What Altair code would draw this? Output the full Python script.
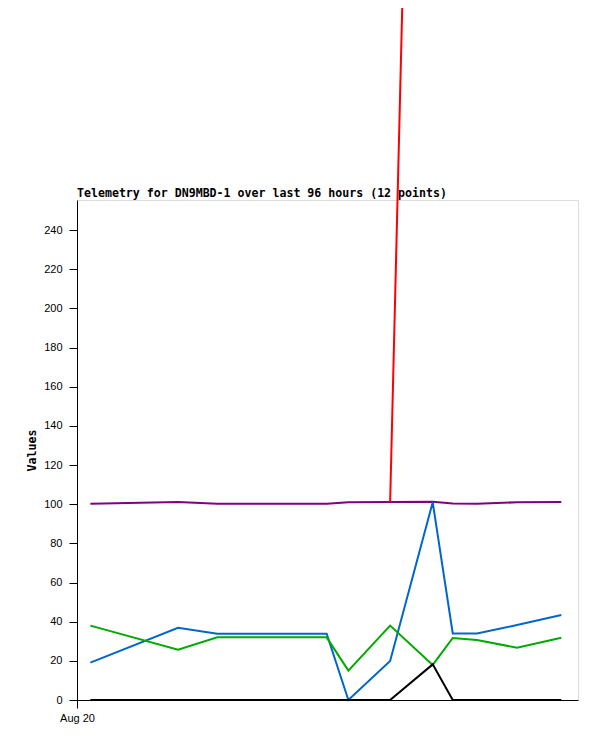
import altair as alt
import pandas as pd

title_text = "Telemetry for DN9MBD-1 over last 96 hours (12 points)"
times = [
    "2024-08-20T00:16:00Z", "2024-08-20T02:01:00Z", "2024-08-20T02:48:00Z",
    "2024-08-20T03:51:00Z", "2024-08-20T04:59:00Z", "2024-08-20T05:25:00Z",
    "2024-08-20T06:15:00Z", "2024-08-20T07:06:00Z", "2024-08-20T07:30:00Z",
    "2024-08-20T07:59:00Z", "2024-08-20T08:47:00Z", "2024-08-20T09:40:00Z",
]
purple = [100.2, 101.2, 100.3, 100.2, 100.2, 101.0, 101.2, 101.3, 100.4, 100.2, 101.0, 101.2]
red = [None, None, None, None, None, None, 101.0, 990.0, None, None, None, None]
blue = [19.1, 36.9, 33.9, 33.9, 33.9, 0.0, 19.9, 101.0, 34.0, 34.0, 38.3, 43.4]
green = [38.0, 25.7, 32.0, 32.0, 32.0, 15.0, 38.0, 17.9, 31.7, 30.6, 26.7, 31.8]
black = [0, 0, 0, 0, 0, 0, 0, 18.2, 0, 0, 0, 0]

series = [("purple", purple, "#800080"), ("red", red, "#ff0000"),
          ("blue", blue, "#0066cc"), ("green", green, "#00aa00"),
          ("black", black, "#000000")]

rows = []
for name, vals, _ in series:
    for t, v in zip(times, vals):
        if v is not None:
            rows.append({"t": t, "v": v, "s": name})
df = pd.DataFrame(rows)

x_dom = [alt.DateTime(year=2024, month=8, date=20, hours=0, utc=True),
         alt.DateTime(year=2024, month=8, date=20, hours=10, utc=True)]

mono = "DejaVu Sans Mono"

lines = alt.Chart(df).mark_line(strokeWidth=2, clip=False).encode(
    x=alt.X("t:T", title=None,
            scale=alt.Scale(type="utc", domain=x_dom),
            axis=alt.Axis(values=[alt.DateTime(year=2024, month=8, date=20, hours=0, utc=True)],
                          labelExpr="utcFormat(datum.value, '%b %d')",
                          labelAlign="center", labelFlush=False, grid=False,
                          tickSize=8, labelPadding=4, domainColor="#000000",
                          tickColor="#000000", labelFont="Liberation Sans",
                          labelFontSize=11, labelColor="#000000")),
    y=alt.Y("v:Q", title="Values",
            scale=alt.Scale(domain=[0, 255.4], nice=False, zero=True),
            axis=alt.Axis(values=list(range(0, 241, 20)), grid=False, tickSize=8,
                          labelPadding=7, domainColor="#000000", tickColor="#000000",
                          labelFont="Liberation Sans", labelFontSize=11,
                          labelColor="#000000", titleFont=mono, titleFontSize=11.6,
                          titleFontWeight="bold", titleColor="#000000", titlePadding=6)),
    color=alt.Color("s:N", legend=None,
                    scale=alt.Scale(domain=[s[0] for s in series],
                                    range=[s[2] for s in series])),
    order=alt.Order("t:T"),
    detail="s:N",
)

title_layer = alt.Chart(pd.DataFrame({"label": [title_text]})).mark_text(
    align="left", baseline="alphabetic", font=mono, fontSize=11.6,
    fontWeight="bold", color="#000000", clip=False,
).encode(x=alt.value(0), y=alt.value(-3), text="label:N")

chart = alt.layer(title_layer, lines).properties(
    width=501, height=500,
    autosize=alt.AutoSizeParams(type="none"),
    padding={"left": 69, "top": 192, "right": 10, "bottom": 30},
).configure_view(stroke="#444444", strokeWidth=1).configure(background="white")

chart.save("out.html", embed_options={"renderer": "svg", "actions": False})
